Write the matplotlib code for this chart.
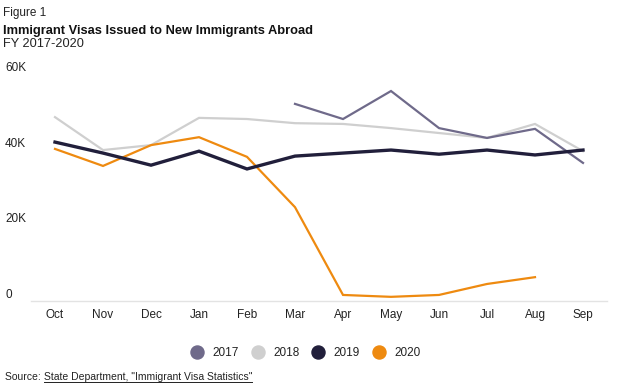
import numpy as np
import matplotlib
matplotlib.use("Agg")
import matplotlib.pyplot as plt
from matplotlib.lines import Line2D
from matplotlib.ticker import FuncFormatter

months = ['Oct', 'Nov', 'Dec', 'Jan', 'Feb', 'Mar', 'Apr', 'May', 'Jun', 'Jul', 'Aug', 'Sep']
fy2017 = [np.nan, np.nan, np.nan, np.nan, np.nan, 51300, 47300, 54700, 44900, 42300, 44700, 35700]
fy2018 = [47800, 39100, 40400, 47600, 47300, 46200, 46000, 44900, 43600, 42300, 46000, 38800]
fy2019 = [41200, 38300, 35100, 38800, 34100, 37500, 38300, 39100, 38000, 39100, 37800, 39100]
fy2020 = [39400, 34900, 40400, 42500, 37300, 24000, 800, 300, 800, 3700, 5500, np.nan]
series_names = ['2017', '2018', '2019', '2020']
yticks = [0, 20000, 40000, 60000]

colors = {'2017': '#6f6a8a', '2018': '#cfcfcf', '2019': '#211f3b', '2020': '#ee8a10'}
widths = {'2017': 1.6, '2018': 1.6, '2019': 2.4, '2020': 1.6}

plt.rcParams['font.family'] = ['Liberation Sans', 'DejaVu Sans']
txt = '#222222'

fig = plt.figure(figsize=(6.19, 3.91), dpi=100)
W, H = 619, 391
ax = fig.add_axes([31 / W, 1 - 301 / H, 576 / W, 241 / H])

x = np.arange(len(months))
data = {'2017': fy2017, '2018': fy2018, '2019': fy2019, '2020': fy2020}
for name in ['2018', '2017', '2020', '2019']:
    ax.plot(x, data[name], color=colors[name], lw=widths[name], solid_joinstyle='miter',
            zorder=3 if name == '2019' else 2)

ax.set_xlim(-0.5, 11.5)
ax.set_ylim(-800, 62900)
ax.set_xticks(x)
ax.set_xticklabels(months)
ax.set_yticks(yticks)
ax.yaxis.set_major_formatter(FuncFormatter(lambda v, p: '0' if v == 0 else f'{int(v/1000)}K'))
for s in ['top', 'right', 'left']:
    ax.spines[s].set_visible(False)
ax.spines['bottom'].set_color('#e3e3e3')
ax.spines['bottom'].set_linewidth(1.0)
ax.tick_params(axis='x', length=0, pad=6, labelsize=8.5, labelcolor=txt)
ax.tick_params(axis='y', length=0, pad=26 * 0.72, labelsize=8.5, labelcolor=txt)
for lab in ax.get_yticklabels():
    lab.set_horizontalalignment('left')
    lab.set_verticalalignment('baseline')

# Titles
fig.text(3 / W, 1 - 13 / H, 'Figure 1', fontsize=8.5, color=txt, va='center', ha='left')
fig.text(3 / W, 1 - 31 / H, 'Immigrant Visas Issued to New Immigrants Abroad', fontsize=9.25,
         fontweight='bold', color='#111111', va='center', ha='left')
fig.text(3 / W, 1 - 44 / H, 'FY 2017-2020', fontsize=9.2, color=txt, va='center', ha='left')

# Legend
handles = [Line2D([], [], marker='o', ls='none', markersize=9.4, markerfacecolor=colors[n],
                  markeredgecolor=colors[n]) for n in series_names]
fig.legend(handles, series_names, loc='center', bbox_to_anchor=(306 / W, 1 - 353 / H), ncol=4,
           frameon=False, fontsize=8.5, handlelength=1.0, handletextpad=0.8, columnspacing=1.1,
           labelcolor=txt)

# Source
t1 = fig.text(5 / W, 1 - 380 / H, 'Source: ', fontsize=7.5, color=txt, va='baseline', ha='left')
fig.canvas.draw()
r = fig.canvas.get_renderer()
bb = t1.get_window_extent(r)
t2 = fig.text(bb.x1 / W, 1 - 380 / H, 'State Department, "Immigrant Visa Statistics"', fontsize=7.5,
              color=txt, va='baseline', ha='left')
bb2 = t2.get_window_extent(r)
fig.add_artist(Line2D([bb2.x0 / W, bb2.x1 / W], [(bb2.y0 + 0.5) / H, (bb2.y0 + 0.5) / H],
                      color=txt, lw=0.7))

fig.savefig('out.png', dpi=100)
